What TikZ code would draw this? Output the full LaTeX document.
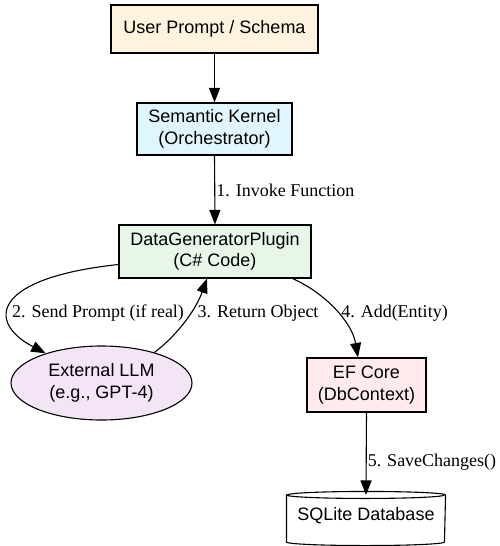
\documentclass[tikz,border=0pt]{standalone}
\usepackage{fontspec}
\setmainfont{Liberation Serif}
\newfontfamily\nodefont{Liberation Sans}
\usetikzlibrary{arrows.meta,shapes.geometric}
\definecolor{userfill}{HTML}{FFF3E0}
\definecolor{skfill}{HTML}{E1F5FE}
\definecolor{dgfill}{HTML}{E8F5E9}
\definecolor{llmfill}{HTML}{F3E5F5}
\definecolor{effill}{HTML}{FFEBEE}
\begin{document}
\begin{tikzpicture}[x=1pt,y=-1pt,
  box/.style={draw=black, line width=1.1pt, rectangle, inner sep=0pt, align=center,
    font=\nodefont\fontsize{18}{21.5}\selectfont},
  oval/.style={box, ellipse},
  conn/.style={draw=black, line width=1.1pt, -{Triangle[length=14.5pt,width=11pt]}},
  elabel/.style={font=\fontsize{18}{21.5}\selectfont, inner sep=0pt}]
\useasboundingbox (0,0) rectangle (500,546);
\node[box, fill=userfill, minimum width=207pt, minimum height=48pt] (user) at (214.5,29) {User Prompt / Schema};
\node[box, fill=skfill, minimum width=155pt, minimum height=52pt] (sk) at (214.5,129) {Semantic Kernel\\(Orchestrator)};
\node[box, fill=dgfill, minimum width=192pt, minimum height=53pt] (dg) at (215,251.5) {DataGeneratorPlugin\\(C\# Code)};
\node[oval, fill=llmfill, minimum width=181pt, minimum height=74pt] (llm) at (101.5,383) {External LLM\\(e.g., GPT-4)};
\node[box, fill=effill, minimum width=119pt, minimum height=54pt] (ef) at (366.5,385) {EF Core\\(DbContext)};
\node[box, draw=none, minimum width=158pt, minimum height=53pt] (sql) at (366,518.5) {};
% cylinder outline
\filldraw[draw=black, fill=white, line width=1.1pt]
  ([yshift=-3.5pt]sql.north west) -- ([yshift=3.5pt]sql.south west)
  arc[start angle=180, end angle=360, x radius=79pt, y radius=3.5pt]
  -- ([yshift=-3.5pt]sql.north east)
  arc[start angle=0, end angle=180, x radius=79pt, y radius=3.5pt] -- cycle;
\draw[line width=1.1pt] ([yshift=-3.5pt]sql.north west)
  arc[start angle=180, end angle=360, x radius=79pt, y radius=3.5pt];
\node[font=\nodefont\fontsize{18}{21.5}\selectfont, inner sep=0pt] (sqltext) at ([yshift=3pt]sql.center) {SQLite Database};
% connectors
\draw[conn] (user.south) -- (sk.north);
\draw[conn] (sk.south) -- (dg.north)
  node[elabel, anchor=west, pos=0.5, xshift=1pt] {1. Invoke Function};
\draw[conn] ([yshift=-13pt]dg.west) .. controls (-8,278) and (-14,322) .. (llm.152)
  node[elabel] at (98,313) {2. Send Prompt (if real)};
\draw[conn] (llm.30) .. controls (175,337) and (195,312) .. ([xshift=-8pt]dg.south)
  node[elabel] at (258,313) {3. Return Object};
\draw[conn] ([xshift=-19pt]dg.south east) .. controls (325,293) and (352,322) .. ([xshift=-8.5pt]ef.north)
  node[elabel] at (394.5,313) {4. Add(Entity)};
\draw[conn] (ef.south) -- ([yshift=-3.5pt]sql.north)
  node[elabel, anchor=west, pos=0.6, xshift=1pt] {5. SaveChanges()};
\end{tikzpicture}
\end{document}
